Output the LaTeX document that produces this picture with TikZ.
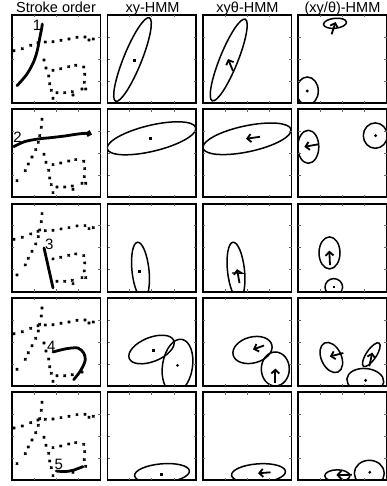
\documentclass[tikz,border=0pt]{standalone}
\usepackage{fontspec}
\setmainfont{Liberation Sans}
\usetikzlibrary{arrows.meta}
\tikzset{
 pframe/.style={line width=1.9pt},
 tck/.style={line width=0.6pt, black!60},
 ell/.style={line width=1.5pt},
 stk/.style={line width=2.8pt, line cap=round, line join=round},
 qv/.style={line width=1.8pt, -{Straight Barb[length=3.8pt,width=8pt]}},
 xmk/.style={only marks, mark=x, mark size=1.6pt, mark options={line width=1.2pt}},
 hdr/.style={font=\fontsize{14.5}{16}\selectfont, inner sep=0pt, anchor=base},
 num/.style={font=\fontsize{15}{16}\selectfont, inner sep=0pt},
 sq/.style={fill, minimum size=3pt, inner sep=0pt},
}
\newcommand\pbox{%
 \draw[pframe] (0,0) rectangle (88.5,88);
 \foreach \t in {22.1,44.25,66.4}{\draw[tck] (\t,0) -- ++(0,2.4); \draw[tck] (\t,88) -- ++(0,-2.4);}
 \foreach \t in {22,44,66}{\draw[tck] (0,\t) -- ++(2.4,0); \draw[tck] (88.5,\t) -- ++(-2.4,0);}}
\newcommand\pclip{\clip (0,0) rectangle (88.5,88);}
\newcommand\mkA{\draw[xmk] plot coordinates {(30,10) (29.3,18) (27.7,26.3) (26.3,33) (23.7,40.3) (20,47.7) (16.3,54.7) (13.3,61.3) (5,71.3)};}
\newcommand\mkB{\draw[xmk] plot coordinates {(2,35.7) (10.3,33.7) (18.7,30.3) (26,27.7) (33.3,27) (41,26.7) (49,25.3) (57,24) (65,22.3) (73,22) (77,25) (81.3,24)};}
\newcommand\mkC{\draw[xmk] plot coordinates {(32,45) (34,53) (36.7,61) (37.7,68.7) (39.3,75.3) (41,83.3)};}
\newcommand\mkD{\draw[xmk] plot coordinates {(41,55.3) (48.7,53.7) (56.7,51.7) (63.7,50.3) (71.7,52) (72.7,59.3) (72.3,67.3) (73.7,74) (61,80)};}
\newcommand\mkE{\draw[xmk] plot coordinates {(45,77.7) (52.7,77.7) (60.3,76.7) (70,74)};}
\newcommand\skA{\draw[stk] plot[smooth] coordinates {(5,70.7) (14.3,60) (21,48.3) (25,36.7) (27.7,23.3) (29.7,13.3) (30.3,9)};}
\newcommand\skB{\draw[stk,-{Straight Barb[length=2.5pt,width=5pt]}] plot[smooth] coordinates {(1.7,37.3) (12.7,32.3) (26,29.7) (39.3,28.3) (52.7,26.7) (66,24.7) (74.3,24) (80,25.3)};}
\newcommand\skC{\draw[stk] plot[smooth] coordinates {(32,44.3) (36,62) (41,84.3)};}
\newcommand\skD{\draw[stk] plot[smooth] coordinates {(41,54) (54.3,50.7) (66,50) (71.7,55) (73.3,61.7) (71,68.3) (67,75) (61.7,81.7)};}
\newcommand\skE{\draw[stk] plot[smooth] coordinates {(44.3,78.7) (52.7,79.3) (61,78) (71,74.3)};}
\begin{document}
\begin{tikzpicture}[x=1pt,y=1pt,yscale=-1]
\useasboundingbox (0,0) rectangle (387,486);
\fill[white] (0,0) rectangle (387,486);
% headers
\node[hdr] (h1) at (56,12.7) {Stroke order};
\node[hdr] (h2) at (152.5,12.7) {xy-HMM};
\node[hdr] (h3) at (247.5,12.7) {xyθ-HMM};
\node[hdr] (h4) at (342.5,12.7) {(xy/θ)-HMM};
% ---------------- row 1
\begin{scope}[shift={(12,15)}]
 \begin{scope}\pclip \mkB \mkC \mkD \mkE \skA \end{scope}
 \node[num] (n1) at (25,10.5) {1};
 \pbox
\end{scope}
\begin{scope}[shift={(107.5,15)}]
 \begin{scope}\pclip
  \draw[ell] (25,44.5) ellipse [x radius=45, y radius=9, rotate=-68];
  \node[sq] (c12) at (26.7,46) {};
 \end{scope}
 \pbox
\end{scope}
\begin{scope}[shift={(203,15)}]
 \begin{scope}\pclip
  \draw[ell] (25.7,45) ellipse [x radius=44, y radius=9, rotate=-68];
  \draw[qv] (30,56) -- (25,44);
 \end{scope}
 \pbox
\end{scope}
\begin{scope}[shift={(298.3,15)}]
 \begin{scope}\pclip
  \draw[ell] (36.7,8.3) ellipse [x radius=11.5, y radius=5, rotate=-6];
  \draw[qv] (33.3,19.3) -- (37.3,7);
  \draw[ell] (9,76) ellipse [x radius=11, y radius=14];
  \fill (9,76) circle (1.6);
 \end{scope}
 \pbox
\end{scope}
% ---------------- row 2
\begin{scope}[shift={(12,109.3)}]
 \begin{scope}\pclip \mkA \mkC \mkD \mkE \skB \end{scope}
 \node[num] (n2) at (5.5,28) {2};
 \pbox
\end{scope}
\begin{scope}[shift={(107.5,109.3)}]
 \begin{scope}\pclip
  \draw[ell] (44,29) ellipse [x radius=45.5, y radius=13, rotate=-13.5];
  \node[sq] (c22) at (43.3,29.7) {};
 \end{scope}
 \pbox
\end{scope}
\begin{scope}[shift={(203,109.3)}]
 \begin{scope}\pclip
  \draw[ell] (44,29.5) ellipse [x radius=45, y radius=13, rotate=-12];
  \draw[qv] (57,27.5) -- (43,29.5);
 \end{scope}
 \pbox
\end{scope}
\begin{scope}[shift={(298.3,109.3)}]
 \begin{scope}\pclip
  \draw[ell] (10,37.5) ellipse [x radius=10.5, y radius=16.5];
  \draw[qv] (20,35) -- (6,37.5);
  \draw[ell] (77,26.3) ellipse [x radius=12, y radius=12.7];
  \fill (77.3,26.3) circle (1.6);
 \end{scope}
 \pbox
\end{scope}
% ---------------- row 3
\begin{scope}[shift={(12,203.6)}]
 \begin{scope}\pclip \mkA \mkB \mkD \mkE \skC \end{scope}
 \node[num] (n3) at (37.3,40.7) {3};
 \pbox
\end{scope}
\begin{scope}[shift={(107.5,203.6)}]
 \begin{scope}\pclip
  \draw[ell] (33,67) ellipse [x radius=28.5, y radius=8.5, rotate=84];
  \node[sq] (c32) at (32.3,67.7) {};
 \end{scope}
 \pbox
\end{scope}
\begin{scope}[shift={(203,203.6)}]
 \begin{scope}\pclip
  \draw[ell] (33,67) ellipse [x radius=28.5, y radius=8.5, rotate=84];
  \draw[qv] (36.5,79.5) -- (34,65.5);
  \draw[line width=1.2pt] (29,69.3) -- (41,69.8);
 \end{scope}
 \pbox
\end{scope}
\begin{scope}[shift={(298.3,203.6)}]
 \begin{scope}\pclip
  \draw[ell] (31.2,49.3) ellipse [x radius=10.5, y radius=16];
  \draw[qv] (31.7,61.5) -- (31,47);
  \draw[ell] (35.5,83.5) ellipse [x radius=8.8, y radius=8.5];
  \draw[line width=1.6pt] (34.3,83.3) -- (37,83.3);
 \end{scope}
 \pbox
\end{scope}
% ---------------- row 4
\begin{scope}[shift={(12,298)}]
 \begin{scope}\pclip \mkA \mkB \mkC \mkE \skD \end{scope}
 \node[num] (n4) at (39.3,48.7) {4};
 \pbox
\end{scope}
\begin{scope}[shift={(107.5,298)}]
 \begin{scope}\pclip
  \draw[ell] (44,51.5) ellipse [x radius=24, y radius=12, rotate=-22];
  \node[sq] (c42a) at (45.7,52.3) {};
  \draw[ell] (70,68) ellipse [x radius=27, y radius=15, rotate=99];
  \fill (70,67.3) circle (1.5);
 \end{scope}
 \pbox
\end{scope}
\begin{scope}[shift={(203,298)}]
 \begin{scope}\pclip
  \draw[ell] (49.5,52) ellipse [x radius=20, y radius=13, rotate=-15];
  \draw[qv] (61,47.5) -- (50,51.5);
  \draw[ell] (72.3,71) ellipse [x radius=14, y radius=17];
  \draw[qv] (72.3,85) -- (72.3,70.5);
 \end{scope}
 \pbox
\end{scope}
\begin{scope}[shift={(298.3,298)}]
 \begin{scope}\pclip
  \draw[ell] (33,59.5) ellipse [x radius=16, y radius=10, rotate=65];
  \draw[qv] (45,55) -- (31.5,58.5);
  \draw[ell] (73,56.7) ellipse [x radius=14, y radius=5, rotate=124];
  \draw[qv] (71,68.3) -- (74,54.5);
  \draw[ell] (67,82.5) ellipse [x radius=18.5, y radius=12, rotate=5];
  \fill (67.3,82.3) circle (1.6);
 \end{scope}
 \pbox
\end{scope}
% ---------------- row 5
\begin{scope}[shift={(12,392.3)}]
 \begin{scope}\pclip \mkA \mkB \mkC \mkD \skE \end{scope}
 \node[num] (n5) at (46.7,72) {5};
 \pbox
\end{scope}
\begin{scope}[shift={(107.5,392.3)}]
 \begin{scope}\pclip
  \draw[ell] (54.5,81) ellipse [x radius=27.5, y radius=9.5, rotate=-5];
  \node[sq] (c52) at (54.3,82) {};
 \end{scope}
 \pbox
\end{scope}
\begin{scope}[shift={(203,392.3)}]
 \begin{scope}\pclip
  \draw[ell] (55.5,81) ellipse [x radius=27, y radius=9.5, rotate=-4];
  \draw[qv] (67.5,80) -- (55,81);
 \end{scope}
 \pbox
\end{scope}
\begin{scope}[shift={(298.3,392.3)}]
 \begin{scope}\pclip
  \draw[ell] (39,83.5) ellipse [x radius=12.5, y radius=6];
  \draw[qv] (53.5,82.5) -- (38,82.7);
  \draw[ell] (71,81) ellipse [x radius=15, y radius=13];
  \fill (71.5,80) circle (1.6);
 \end{scope}
 \pbox
\end{scope}
\end{tikzpicture}
\end{document}
